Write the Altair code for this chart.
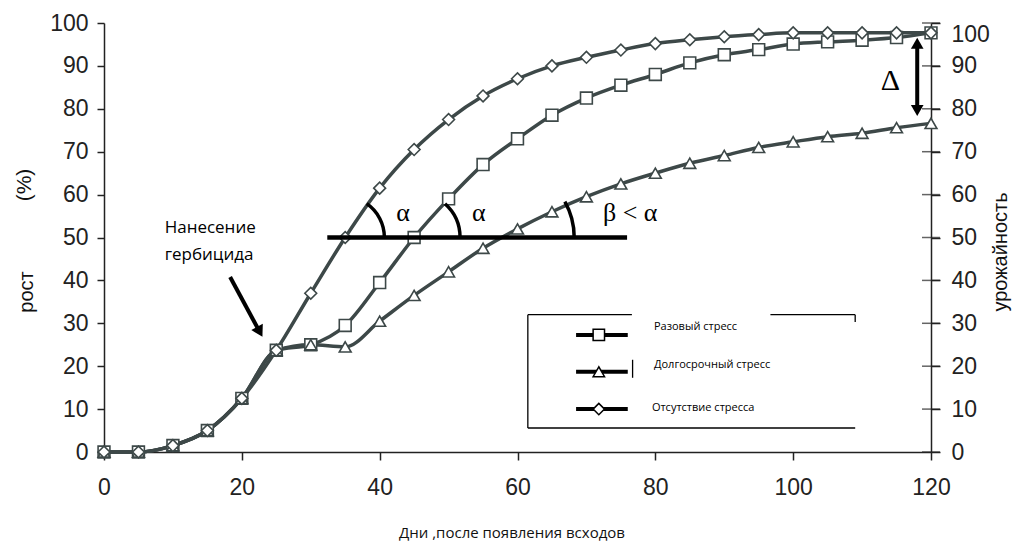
import altair as alt
import pandas as pd

# ---------------- data ----------------
days = [0, 5, 10, 15, 20, 25, 30, 35, 40, 45, 50, 55, 60, 65, 70, 75, 80, 85, 90, 95, 100, 105, 110, 115, 120]
no_stress = [0, 0, 1.5, 5, 12.5, 23.7, 37, 50, 61.5, 70.5, 77.5, 83, 87, 90, 92, 93.7, 95.2, 96.1, 96.8, 97.3, 97.7, 97.7, 97.7, 97.7, 97.7]
single_stress = [0, 0, 1.5, 5, 12.5, 23.7, 25, 29.5, 39.5, 50, 59, 67, 73, 78.5, 82.5, 85.5, 88, 90.7, 92.6, 93.8, 95.1, 95.6, 96, 96.6, 97.7]
long_stress = [0, 0, 1.5, 5, 12.5, 23.7, 25, 24.5, 30.5, 36.5, 42, 47.5, 52, 56, 59.5, 62.5, 65, 67.3, 69.1, 71, 72.3, 73.5, 74.3, 75.6, 76.6]

series_names = ["Разовый стресс", "Долгосрочный  стресс", "Отсутствие  стресса"]
series_shapes = ["square", "triangle-up", "diamond"]

x_ticks = [0, 20, 40, 60, 80, 100, 120]
y_ticks = [0, 10, 20, 30, 40, 50, 60, 70, 80, 90, 100]

x_title = "Дни ,после появления всходов"
left_title_a = "рост"
left_title_b = "(%)"
right_title = "урожайность"
herbicide_text = ["Нанесение", "гербицида"]

LINE = "#3d4848"

rows = []
for name, vals in zip(series_names, [single_stress, long_stress, no_stress]):
    for d, v in zip(days, vals):
        rows.append({"day": d, "value": v, "series": name})
df = pd.DataFrame(rows)

xs = alt.Scale(domain=[0, 120], nice=False)
ys = alt.Scale(domain=[0, 100], nice=False)
x_axis = alt.Axis(values=x_ticks, tickSize=8, labelPadding=16, title=None, labelFlush=False)
y_axis = alt.Axis(values=y_ticks, tickSize=7, labelPadding=9, title=None, labelFlush=False)

X = lambda f: alt.X(f, type="quantitative", scale=xs, axis=x_axis)
Y = lambda f: alt.Y(f, type="quantitative", scale=ys, axis=y_axis)

base = alt.Chart(df)

lines = base.mark_line(strokeWidth=3.5, color=LINE, interpolate="monotone").encode(
    x=X("day"), y=Y("value"), detail="series:N",
)

points = base.mark_point(filled=True, fill="white", stroke=LINE, strokeWidth=1.6, size=140, opacity=1).encode(
    x=X("day"), y=Y("value"),
    shape=alt.Shape("series:N", scale=alt.Scale(domain=series_names, range=series_shapes), legend=None),
)

# horizontal reference line at 50
hline_df = pd.DataFrame({"x": [32.4], "x2": [75.9], "y": [50]})
hline = alt.Chart(hline_df).mark_rule(strokeWidth=4.5, color="black").encode(
    x=X("x"), x2="x2", y=Y("y"))

# angle arcs
arc_centers = [34.7, 45.1, 57.6]
def arc(cx, t0, r):
    return alt.Chart(pd.DataFrame({"x": [cx], "y": [50]})).mark_arc(
        theta=t0, theta2=1.5708, radius=r, radius2=r - 3.5, color="black").encode(
        x=X("x"), y=Y("y"))
arcs = [arc(arc_centers[0], 0.61, 43), arc(arc_centers[1], 0.73, 47), arc(arc_centers[2], 1.06, 75)]

greek_df = pd.DataFrame({"x": [43.4, 54.4], "y": [55.7, 55.7], "t": ["α", "α"]})
greek = alt.Chart(greek_df).mark_text(font="Liberation Serif", fontSize=26, align="center", baseline="middle").encode(
    x=X("x"), y=Y("y"), text="t:N")
beta_df = pd.DataFrame({"x": [72.4], "y": [55.7], "t": ["β < α"]})
beta = alt.Chart(beta_df).mark_text(font="Liberation Serif", fontSize=26, align="left", baseline="middle").encode(
    x=X("x"), y=Y("y"), text="t:N")
delta_df = pd.DataFrame({"x": [114.1], "y": [86.5], "t": ["Δ"]})
delta = alt.Chart(delta_df).mark_text(font="Liberation Serif", fontSize=30, align="center", baseline="middle").encode(
    x=X("x"), y=Y("y"), text="t:N")

# delta double arrow
darrow_df = pd.DataFrame({"x": [118.0], "y": [95.5], "y2": [79.5]})
darrow = alt.Chart(darrow_df).mark_rule(strokeWidth=4, color="black").encode(x=X("x"), y=Y("y"), y2="y2")
dheads_df = pd.DataFrame({"x": [118.0, 118.0], "y": [95.3, 79.6], "s": ["triangle-up", "triangle-down"]})
dheads = alt.Chart(dheads_df).mark_point(filled=True, color="black", size=160, opacity=1).encode(
    x=X("x"), y=Y("y"), shape=alt.Shape("s:N", scale=None))

# herbicide arrow
harrow_df = pd.DataFrame({"x": [18.3], "y": [40.8], "x2": [22.6], "y2": [28.0]})
harrow = alt.Chart(harrow_df).mark_rule(strokeWidth=4, color="black").encode(
    x=X("x"), y=Y("y"), x2="x2", y2="y2")
hhead_df = pd.DataFrame({"x": [22.6], "y": [28.0]})
hhead = alt.Chart(hhead_df).mark_point(shape="triangle-up", angle=151.6, filled=True, color="black",
                                       size=170, opacity=1).encode(x=X("x"), y=Y("y"))
htext_df = pd.DataFrame({"x": [8.8, 8.8], "y": [52.2, 45.9], "t": herbicide_text})
htext = alt.Chart(htext_df).mark_text(font="Open Sans", fontSize=17, align="left", baseline="middle").encode(
    x=X("x"), y=Y("y"), text="t:N")

# legend box
box_df = pd.DataFrame({
    "x": [61.5, 61.5, 96.7, 61.5, 109.0, 76.7],
    "x2": [61.5, 76.6, 109.0, 109.0, 109.0, 76.7],
    "y": [32.0, 32.0, 32.0, 5.6, 32.0, 21.5],
    "y2": [5.6, 32.0, 32.0, 5.6, 30.3, 17.3],
})
box = alt.Chart(box_df).mark_rule(strokeWidth=1.3, color="black").encode(
    x=X("x"), x2="x2", y=Y("y"), y2="y2")
leg_y = [27.3, 18.7, 10.0]
leg_line_df = pd.DataFrame({"x": [68.5] * 3, "x2": [76.0] * 3, "y": leg_y})
leg_lines = alt.Chart(leg_line_df).mark_rule(strokeWidth=4, color="black").encode(
    x=X("x"), x2="x2", y=Y("y"))
leg_pt_df = pd.DataFrame({"x": [71.8] * 3, "y": leg_y, "series": series_names})
leg_pts = alt.Chart(leg_pt_df).mark_point(filled=True, fill="white", stroke="black", strokeWidth=1.5,
                                          size=130, opacity=1).encode(
    x=X("x"), y=Y("y"),
    shape=alt.Shape("series:N", scale=alt.Scale(domain=series_names, range=series_shapes), legend=None))
leg_txt_df = pd.DataFrame({"x": [79.8, 79.8, 79.5], "y": [29.2, 20.3, 10.3], "t": series_names})
leg_txt = alt.Chart(leg_txt_df).mark_text(font="Open Sans", fontSize=11, align="left", baseline="middle").encode(
    x=X("x"), y=Y("y"), text="t:N")

# titles
def ptext(t, x, y, angle=0, size=20, font="Liberation Sans"):
    kw = dict(font=font, fontSize=size, align="center", baseline="middle", color="#111")
    if angle:
        kw["angle"] = angle
    return alt.Chart(pd.DataFrame({"t": [t]})).mark_text(**kw).encode(
        x=alt.value(x), y=alt.value(y), text="t:N")

titles = [
    ptext(left_title_a, -77, 269, angle=270),
    ptext(left_title_b, -79, 162, angle=270, size=21),
    ptext(right_title, 897, 229, angle=270),
    ptext(x_title, 408, 510, size=15, font="Open Sans"),
]

main = alt.layer(lines, points, hline, *arcs, greek, beta, delta, darrow, dheads,
                 harrow, hhead, htext, box, leg_lines, leg_pts, leg_txt, *titles)

# right axis with crossing ticks
rt_df = pd.DataFrame({"x": [120] * len(y_ticks), "v": y_ticks})
right = alt.Chart(rt_df).mark_tick(orient="horizontal", size=18, thickness=1.5, color="#222").encode(
    x=X("x"),
    y=alt.Y("v:Q", scale=alt.Scale(domain=[0, 100], nice=False),
            axis=alt.Axis(orient="right", values=y_ticks, tickSize=9, labelPadding=11, title=None,
                          labelFlush=False,
                          labelBaseline={"condition": {"test": "datum.value == 100", "value": "top"},
                                         "value": "middle"})),
)

chart = alt.layer(main, right).resolve_scale(y="independent").properties(
    width=827, height=429,
    autosize=alt.AutoSizeParams(type="none"),
    padding={"left": 96, "top": 15, "right": 81, "bottom": 92},
    background="white",
).configure_view(stroke=None).configure_axis(
    grid=False, domainColor="#222", tickColor="#222", labelColor="#222",
    labelFont="Liberation Sans", labelFontSize=23, domainWidth=1.5, tickWidth=1.5,
)

chart.save("out.html", embed_options={"renderer": "svg", "actions": False})
